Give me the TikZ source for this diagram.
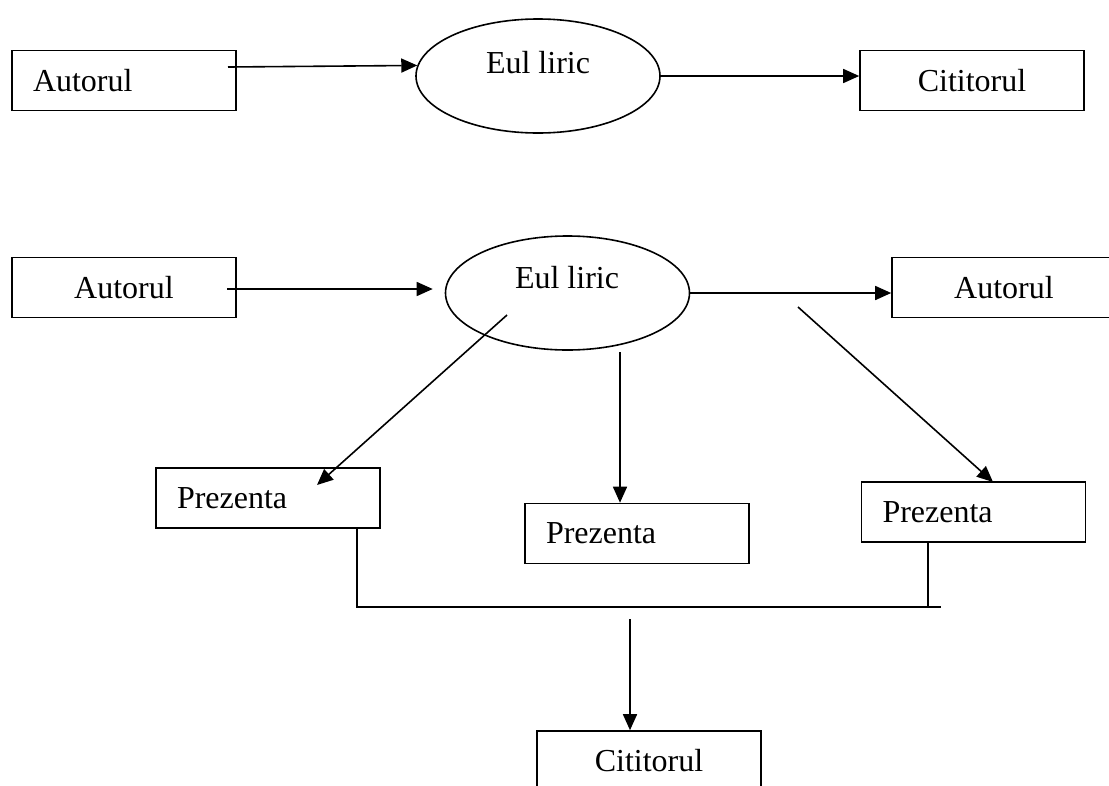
\documentclass[tikz,border=0pt]{standalone}
\usepackage{fontspec}
\setmainfont{Liberation Serif}
\usetikzlibrary{arrows.meta, positioning, shapes.geometric}
\newcommand{\bigtxt}{\fontsize{32}{36}\selectfont}
\tikzset{
  arrowK/.style={-{Triangle[length=16pt, width=14pt]}, line width=1.6pt},
  lineK/.style={line width=1.6pt},
  boxL/.style={rectangle, draw, line width=1.6pt, text width=182pt,
               inner xsep=21pt, minimum height=60pt, align=left, font=\bigtxt},
  boxC/.style={boxL, align=center},
  ellK/.style={ellipse, draw, line width=1.6pt, minimum width=244pt,
               minimum height=114pt, inner sep=0pt},
  lblK/.style={inner sep=0pt, font=\bigtxt},
}
\begin{document}
\begin{tikzpicture}[x=1pt, y=-1pt]
  \useasboundingbox (0,0) rectangle (1109,785);
  % first scheme
  \node[boxL] (au1) at (124,80.5) {Autorul};
  \node[ellK] (eu1) at (538,76) {};
  \node[lblK] (eu1t) at (538,62.5) {Eul liric};
  \node[boxC] (cit1) at (972,80.5) {Cititorul};
  \coordinate (s1) at (228,67);
  \draw[arrowK] (s1) -- (eu1.175);
  \draw[arrowK] (eu1.east) -- (eu1.east -| cit1.west);
  % second scheme
  \node[boxC] (au2) at (124,287.5) {Autorul};
  \node[ellK] (eu2) at (567.5,293) {};
  \node[lblK] (eu2t) at (567,277.5) {Eul liric};
  \node[boxC] (au3) at (1004,287.5) {Autorul};
  \node[boxL] (pr1) at (268,498) {Prezenta};
  \node[boxL] (pr2) at (637,533.5) {Prezenta};
  \node[boxL] (pr3) at (973.5,512) {Prezenta};
  \node[boxC] (cit2) at (649,761) {Cititorul};
  \coordinate (s2) at (227,289);
  \coordinate (s3) at (507,315);  \coordinate (e3) at (317,485);
  \coordinate (s4) at (620,352);
  \coordinate (s5) at (798,307);  \coordinate (e5) at (993,482);
  \coordinate (b1) at (357,607);  \coordinate (b2) at (928,607);
  \coordinate (b3) at (941,607);
  \coordinate (s6) at (630,619);
  \draw[arrowK, shorten >=12pt] (s2) -- (s2 -| eu2.west);
  \draw[arrowK] (eu2.east) -- (eu2.east -| au3.west);
  \draw[arrowK] (s3) -- (e3);
  \draw[arrowK] (s4) -- (s4 |- pr2.north);
  \draw[arrowK] (s5) -- (e5);
  \draw[lineK] (b1 |- pr1.south) -- (b1) -- (b3);
  \draw[lineK] (b2 |- pr3.south) -- (b2);
  \draw[arrowK] (s6) -- (s6 |- cit2.north);
\end{tikzpicture}
\end{document}
